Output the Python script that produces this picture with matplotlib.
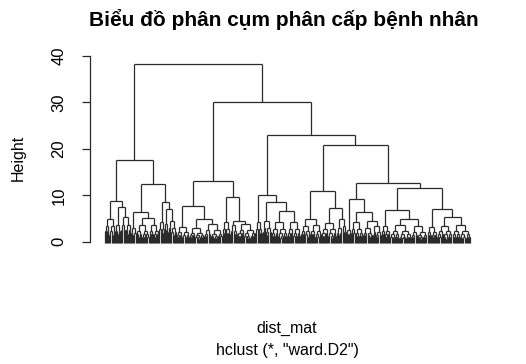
import matplotlib
matplotlib.use("Agg")
import matplotlib.pyplot as plt
from matplotlib.collections import LineCollection

# leaf count of each low-level cluster, left to right
group_sizes = [10, 5, 9, 5, 12, 9, 5, 3, 8,
               12, 13, 17, 7, 7, 16,
               7, 8, 15, 12,
               9, 10, 14, 5, 4,
               4, 11, 9, 8,
               8, 19, 15, 9, 14, 17]
# height of the top merge inside each of those clusters
group_tops = [5.0, 3.6, 5.4, 3.0, 3.5, 3.5, 4.3, 3.8, 4.5,
              3.2, 3.0, 3.8, 4.3, 3.5, 3.9,
              4.3, 4.4, 4.3, 4.3,
              3.4, 3.6, 4.0, 3.0, 3.3,
              2.5, 4.3, 3.0, 3.3,
              3.4, 3.5, 3.3, 3.2, 3.4, 3.5]
# relative merge heights going down inside a cluster (the dense black base)
inner_ratio = [1.0, 0.66, 0.46, 0.31, 0.2, 0.11, 0.05, 0.02]

# upper merges: [height, left, right]; ints are cluster indices
tree = [38.3,
        [17.5,
         [8.8, 0, [7.5, 1, 2]],
         [12.4, [6.3, 3, [5.2, 4, 5]], [8.5, 6, [7.0, 7, 8]]]],
        [30.2,
         [13.1, [7.6, 9, [4.8, 10, 11]], [9.6, 12, [4.5, 13, 14]]],
         [23.0,
          [10.0, 15, [8.6, 16, [6.6, 17, 18]]],
          [20.8,
           [11.0, [5.0, 19, 20], [7.2, 21, [5.0, 22, 23]]],
           [12.7,
            [9.1, 24, [6.3, 25, [4.5, 26, 27]]],
            [11.6, [6.8, 28, [4.9, 29, 30]], [7.0, 31, [5.4, 32, 33]]]]]]]]

segs = []
starts = [sum(group_sizes[:i]) for i in range(len(group_sizes))]
n_leaves = sum(group_sizes)


def join(h, a, b):
    (xa, ha), (xb, hb) = a, b
    segs.append([(xa, ha), (xa, h)])
    segs.append([(xb, hb), (xb, h)])
    segs.append([(xa, h), (xb, h)])
    return ((xa + xb) / 2.0, h)


def inner(s, n, top, d):
    if n == 1:
        return (float(s), -0.2)
    k = int(round(n * (0.4 if d % 2 == 0 else 0.6)))
    k = min(max(k, 1), n - 1)
    h = top * inner_ratio[min(d, len(inner_ratio) - 1)]
    return join(h, inner(s, k, top, d + 1), inner(s + k, n - k, top, d + 1))


def walk(node):
    if isinstance(node, int):
        return inner(starts[node], group_sizes[node], group_tops[node], 0)
    h, l, r = node
    return join(h, walk(l), walk(r))


walk(tree)

fig = plt.figure(figsize=(5.26, 3.64), dpi=100)
ax = fig.add_axes([90 / 526, (364 - 251) / 364, 395 / 526, 195 / 364])
ax.add_collection(LineCollection(segs, colors="#2a2a2a", linewidths=0.9))

px = 365.0 / (n_leaves - 1)
ax.set_xlim(-15 / px, n_leaves - 1 + 15 / px)
ax.set_ylim(-2.0, 40.0)

for s in ["top", "right", "bottom"]:
    ax.spines[s].set_visible(False)
ax.spines["left"].set_bounds(0, 40)
ax.spines["left"].set_linewidth(0.9)
ax.spines["left"].set_color("#2a2a2a")
ax.set_xticks([])
ax.set_yticks([0, 10, 20, 30, 40])
ax.tick_params(axis="y", length=6, width=0.9, color="#2a2a2a", pad=11, labelsize=12)
for t in ax.get_yticklabels():
    t.set_rotation(90)
    t.set_va("center")
    t.set_family("Liberation Sans")

fig.text(284 / 526, 1 - 19 / 364, "Biểu đồ phân cụm phân cấp bệnh nhân",
         ha="center", va="center", fontsize=15, fontweight="bold",
         family="Liberation Sans")
fig.text(18 / 526, 1 - 158 / 364, "Height", rotation=90, ha="center",
         va="center", fontsize=11.5, family="Liberation Sans")
fig.text(287 / 526, 1 - 328 / 364, "dist_mat", ha="center", va="center",
         fontsize=11.5, family="Liberation Sans")
fig.text(287 / 526, 1 - 350 / 364, 'hclust (*, "ward.D2")', ha="center",
         va="center", fontsize=11.5, family="Liberation Sans")

fig.savefig("out.png", dpi=100)
